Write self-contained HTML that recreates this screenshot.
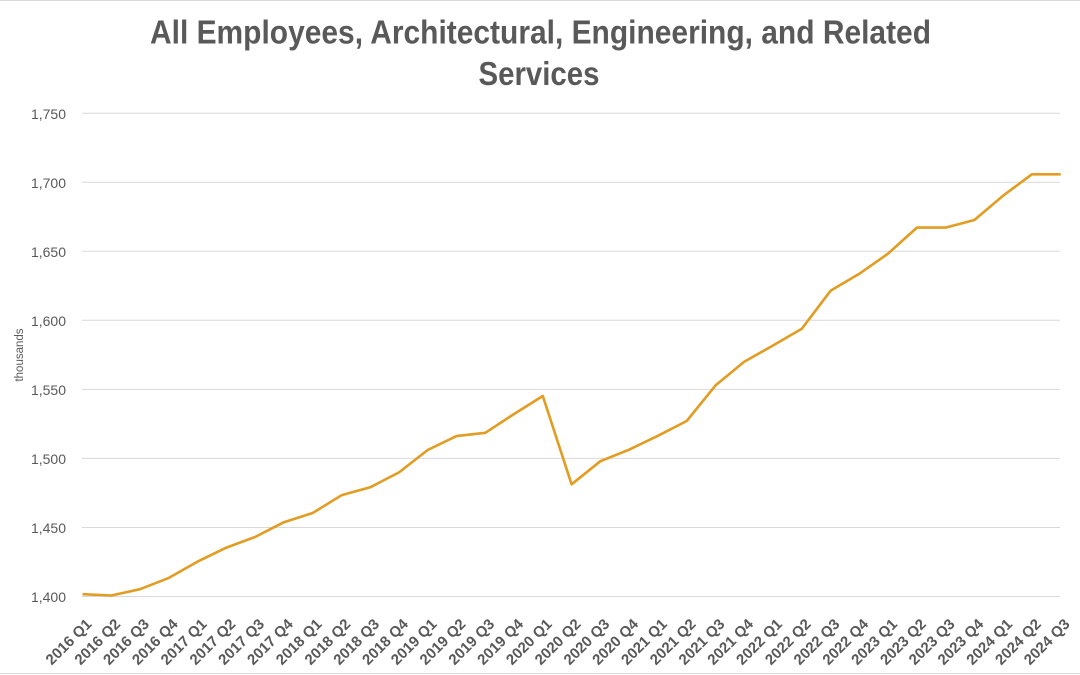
<!DOCTYPE html>
<html>
<head>
<meta charset="utf-8">
<style>
  html, body { margin: 0; padding: 0; background: #ffffff; }
  svg { display: block; }
  text { font-family: "Liberation Sans", Arial, sans-serif; fill: #595959; }
</style>
</head>
<body>
<svg width="1080" height="675" viewBox="0 0 1080 675" xmlns="http://www.w3.org/2000/svg">
  <rect x="0" y="0" width="1080" height="675" fill="#ffffff"/>
  <line x1="0" y1="0.5" x2="1080" y2="0.5" stroke="#d9d9d9" stroke-width="1"/>
  <line x1="0" y1="673.5" x2="1080" y2="673.5" stroke="#d9d9d9" stroke-width="1"/>

  <!-- Title -->
  <text x="150" y="43.5" font-size="33" font-weight="bold" textLength="781" lengthAdjust="spacingAndGlyphs">All Employees, Architectural, Engineering, and Related</text>
  <text x="478.5" y="85" font-size="33" font-weight="bold" textLength="121" lengthAdjust="spacingAndGlyphs">Services</text>

  <!-- Gridlines -->
  <g stroke="#d9d9d9" stroke-width="1">
    <line x1="82" y1="596.5" x2="1060" y2="596.5"/>
    <line x1="82" y1="527.5" x2="1060" y2="527.5"/>
    <line x1="82" y1="458.4" x2="1060" y2="458.4"/>
    <line x1="82" y1="389.4" x2="1060" y2="389.4"/>
    <line x1="82" y1="320.3" x2="1060" y2="320.3"/>
    <line x1="82" y1="251.3" x2="1060" y2="251.3"/>
    <line x1="82" y1="182.2" x2="1060" y2="182.2"/>
    <line x1="82" y1="113.2" x2="1060" y2="113.2"/>
  </g>

  <!-- Y labels -->
  <g font-size="14" text-anchor="end">
    <text x="66" y="602">1,400</text>
    <text x="66" y="533">1,450</text>
    <text x="66" y="464">1,500</text>
    <text x="66" y="395">1,550</text>
    <text x="66" y="326">1,600</text>
    <text x="66" y="257">1,650</text>
    <text x="66" y="188">1,700</text>
    <text x="66" y="119">1,750</text>
  </g>

  <text x="23" y="355" font-size="11.5" text-anchor="middle" transform="rotate(-90 23 355)">thousands</text>

  <!-- Data line -->
  <polyline fill="none" stroke="#e29c22" stroke-width="2.6" stroke-linejoin="round" stroke-linecap="butt"
    points="82.5,594.2 111.3,595.5 140.0,589.2 168.8,577.9 197.6,561.6 226.4,547.6 255.1,537.0 283.9,522.2 312.7,513.0 341.4,495.3 370.2,487.3 399.0,472.4 427.7,450.0 456.5,436.1 485.3,432.8 514.1,414.0 542.8,396.0 571.6,484.3 600.4,461.2 629.1,449.7 657.9,435.8 686.7,421.0 715.5,385.4 744.2,361.8 773.0,345.5 801.8,328.8 830.5,290.8 859.3,273.8 888.1,253.6 916.9,227.6 945.6,227.6 974.4,220.0 1003.2,195.6 1031.9,174.3 1060.7,174.3"/>

  <!-- X labels -->
  <g font-size="15" font-weight="bold" text-anchor="end">
    <text transform="translate(92.5,625) rotate(-45)">2016 Q1</text>
    <text transform="translate(121.3,625) rotate(-45)">2016 Q2</text>
    <text transform="translate(150.0,625) rotate(-45)">2016 Q3</text>
    <text transform="translate(178.8,625) rotate(-45)">2016 Q4</text>
    <text transform="translate(207.6,625) rotate(-45)">2017 Q1</text>
    <text transform="translate(236.4,625) rotate(-45)">2017 Q2</text>
    <text transform="translate(265.1,625) rotate(-45)">2017 Q3</text>
    <text transform="translate(293.9,625) rotate(-45)">2017 Q4</text>
    <text transform="translate(322.7,625) rotate(-45)">2018 Q1</text>
    <text transform="translate(351.4,625) rotate(-45)">2018 Q2</text>
    <text transform="translate(380.2,625) rotate(-45)">2018 Q3</text>
    <text transform="translate(409.0,625) rotate(-45)">2018 Q4</text>
    <text transform="translate(437.7,625) rotate(-45)">2019 Q1</text>
    <text transform="translate(466.5,625) rotate(-45)">2019 Q2</text>
    <text transform="translate(495.3,625) rotate(-45)">2019 Q3</text>
    <text transform="translate(524.1,625) rotate(-45)">2019 Q4</text>
    <text transform="translate(552.8,625) rotate(-45)">2020 Q1</text>
    <text transform="translate(581.6,625) rotate(-45)">2020 Q2</text>
    <text transform="translate(610.4,625) rotate(-45)">2020 Q3</text>
    <text transform="translate(639.1,625) rotate(-45)">2020 Q4</text>
    <text transform="translate(667.9,625) rotate(-45)">2021 Q1</text>
    <text transform="translate(696.7,625) rotate(-45)">2021 Q2</text>
    <text transform="translate(725.5,625) rotate(-45)">2021 Q3</text>
    <text transform="translate(754.2,625) rotate(-45)">2021 Q4</text>
    <text transform="translate(783.0,625) rotate(-45)">2022 Q1</text>
    <text transform="translate(811.8,625) rotate(-45)">2022 Q2</text>
    <text transform="translate(840.5,625) rotate(-45)">2022 Q3</text>
    <text transform="translate(869.3,625) rotate(-45)">2022 Q4</text>
    <text transform="translate(898.1,625) rotate(-45)">2023 Q1</text>
    <text transform="translate(926.9,625) rotate(-45)">2023 Q2</text>
    <text transform="translate(955.6,625) rotate(-45)">2023 Q3</text>
    <text transform="translate(984.4,625) rotate(-45)">2023 Q4</text>
    <text transform="translate(1013.2,625) rotate(-45)">2024 Q1</text>
    <text transform="translate(1041.9,625) rotate(-45)">2024 Q2</text>
    <text transform="translate(1070.7,625) rotate(-45)">2024 Q3</text>
  </g>
</svg>
</body>
</html>
